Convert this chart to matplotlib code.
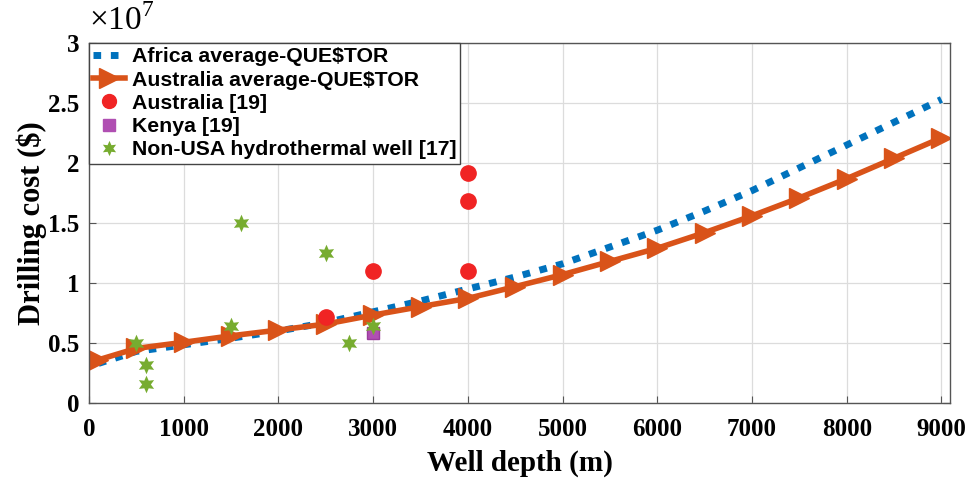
import numpy as np
import matplotlib
matplotlib.use("Agg")
import matplotlib.pyplot as plt
from matplotlib.lines import Line2D

plt.rcParams['mathtext.fontset'] = 'custom'
plt.rcParams['mathtext.rm'] = 'Liberation Serif'

# QUE$TOR model curves (depth in m, cost in $)
depth = [100, 500, 1000, 1500, 2000, 2500, 3000, 3500, 4000, 4500,
         5000, 5500, 6000, 6500, 7000, 7500, 8000, 8500, 9000]
africa_avg = [3.3e6, 4.3e6, 4.85e6, 5.4e6, 6.0e6, 6.7e6, 7.6e6, 8.5e6, 9.5e6, 10.5e6,
              11.6e6, 13.0e6, 14.4e6, 16.0e6, 17.7e6, 19.6e6, 21.5e6, 23.4e6, 25.3e6]
australia_avg = [3.6e6, 4.55e6, 5.06e6, 5.6e6, 6.08e6, 6.58e6, 7.33e6, 8.03e6, 8.72e6, 9.7e6,
                 10.7e6, 11.8e6, 12.9e6, 14.2e6, 15.6e6, 17.1e6, 18.7e6, 20.4e6, 22.1e6]

# reported wells
aus_depth = [2500, 3000, 4000, 4000, 4000]
aus_cost = [7.2e6, 11.0e6, 11.0e6, 16.8e6, 19.2e6]
kenya_depth = [3000]
kenya_cost = [5.85e6]
nonusa_depth = [500, 600, 600, 1500, 1600, 2500, 2750, 3000]
nonusa_cost = [4.97e6, 3.2e6, 1.6e6, 6.45e6, 15.0e6, 12.5e6, 5.0e6, 6.45e6]

blue = '#0072BD'
orange = '#D95319'
red = '#F02424'
purple = '#B04FB2'
green = '#77AC30'

fig = plt.figure(figsize=(9.71, 4.78), dpi=100)
ax = fig.add_axes([89/971, 1-403/478, (950-89)/971, (403-43)/478])

dots = dict(color=blue, lw=5, dashes=(1.1, 1.4), dash_capstyle='butt')
ax.plot(depth, africa_avg, **dots)
ax.plot(depth, australia_avg, color=orange, lw=4, marker='>', ms=14,
        markerfacecolor=orange, markeredgecolor=orange)
ax.plot(aus_depth, aus_cost, 'o', color=red, ms=11)
ax.plot(kenya_depth, kenya_cost, 's', color=purple, ms=8, markeredgecolor='#9A3C9E')
ax.scatter(nonusa_depth, nonusa_cost, marker=(6, 1, 0), s=160, color=green, lw=0, zorder=3)

ax.set_xlim(0, 9090)
ax.set_ylim(0, 3e7)
ax.set_xticks(range(0, 9001, 1000))
ax.set_yticks(np.arange(0, 3.01e7, 0.5e7))
ax.set_yticklabels(['0', '0.5', '1', '1.5', '2', '2.5', '3'])
ax.grid(True, color='#DCDCDC', lw=0.9)
ax.set_axisbelow(True)
for s in ax.spines.values():
    s.set_color('#555555')
    s.set_linewidth(1.0)
ax.tick_params(direction='in', length=5, color='#555555', top=False, right=True,
               labelsize=18, pad=7)
ax.tick_params(axis='x', pad=11)
for lab in ax.get_xticklabels() + ax.get_yticklabels():
    lab.set_fontfamily('Liberation Serif')
    lab.set_fontweight('bold')

ax.set_xlabel('Well depth (m)', fontsize=21, fontweight='bold',
              fontfamily='Liberation Serif', labelpad=6)
ax.set_ylabel('Drilling cost ($)', fontsize=22, fontweight='bold',
              fontfamily='Liberation Serif', labelpad=1)
fig.text(89/971, 1-21/478, r'$\times10^{7}$', fontsize=24, va='center', ha='left')

handles = [
    Line2D([], [], **dots),
    Line2D([], [], color=orange, lw=4, marker='>', ms=14),
    Line2D([], [], ls='none', marker='o', color=red, ms=10),
    Line2D([], [], ls='none', marker='s', color=purple, ms=8),
    Line2D([], [], ls='none', marker=(6, 1, 0), color=green, ms=11, markeredgewidth=0),
]
labels = ['Africa average-QUE$TOR', 'Australia average-QUE$TOR', 'Australia [19]',
          'Kenya [19]', 'Non-USA hydrothermal well [17]']
leg = ax.legend(handles, labels, loc='upper left', bbox_to_anchor=(0, 1),
                prop={'family': 'Liberation Sans', 'weight': 'bold', 'size': 15.3},
                frameon=True, fancybox=False, edgecolor='#444444', framealpha=1,
                borderpad=0.2, labelspacing=0.2, handlelength=1.5, handletextpad=0.3,
                borderaxespad=0)
leg.get_frame().set_linewidth(1.0)

fig.savefig('out.png', dpi=100)
